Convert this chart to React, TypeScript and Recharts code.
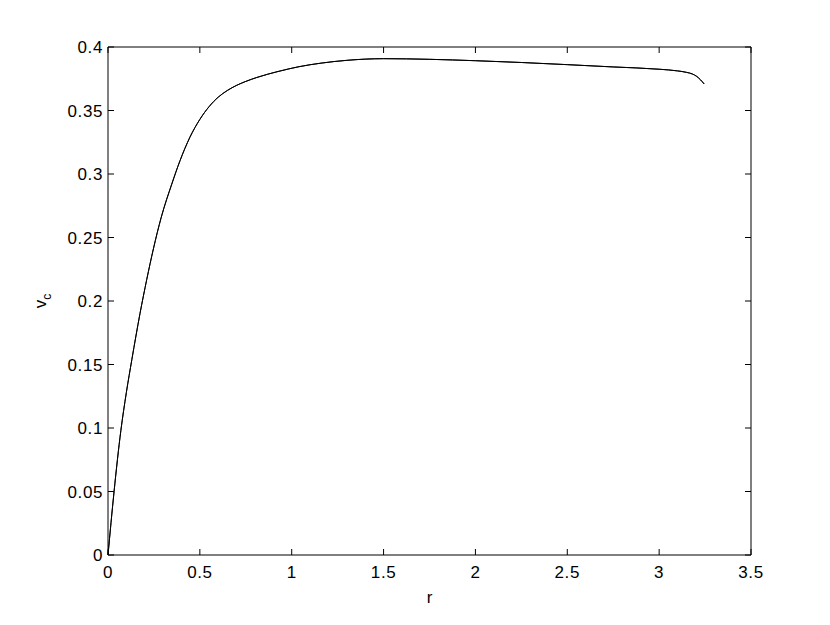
import { LineChart, Line, XAxis, YAxis } from "recharts"

// radio r y velocidad circular v_c
const rVals = [0, 0.033, 0.07, 0.1, 0.13, 0.174, 0.211, 0.247, 0.29, 0.347, 0.392, 0.446, 0.5, 0.55, 0.6, 0.65, 0.7, 0.75, 0.81, 0.87, 0.92, 1.04, 1.16, 1.3, 1.5, 1.75, 2.0, 2.25, 2.5, 2.75, 3.0, 3.1, 3.15, 3.18, 3.205, 3.225, 3.245]
const vcVals = [0, 0.05, 0.098, 0.128, 0.154, 0.19, 0.217, 0.241, 0.266, 0.292, 0.3105, 0.329, 0.343, 0.353, 0.3605, 0.3658, 0.3698, 0.3729, 0.376, 0.3786, 0.3805, 0.3845, 0.3873, 0.3895, 0.3908, 0.3903, 0.3892, 0.3878, 0.3861, 0.3843, 0.3825, 0.3812, 0.38, 0.3788, 0.3768, 0.3742, 0.3709]

const xTicks = [0, 0.5, 1, 1.5, 2, 2.5, 3, 3.5]
const yTicks = [0, 0.05, 0.1, 0.15, 0.2, 0.25, 0.3, 0.35, 0.4]

const data = rVals.map((r, i) => ({ r, vc: vcVals[i] }))

const FONT = "'Liberation Sans', Arial, Helvetica, sans-serif"
const TICK = 6

// ticks hacia dentro, estilo matlab (tickSize=1 -> la coordenada llega 1px fuera del eje)
const BottomTick = ({ x, y, payload }: any) => (
  <g>
    <line x1={x} x2={x} y1={y - 1} y2={y - 1 - TICK} stroke="#000" />
    <text x={x} y={y + 22} textAnchor="middle" fontSize={17} fontFamily={FONT} letterSpacing={0.6} fill="#000">
      {payload.value}
    </text>
  </g>
)

const TopTick = ({ x, y }: any) => <line x1={x} x2={x} y1={y + 1} y2={y + 1 + TICK} stroke="#000" />

const LeftTick = ({ x, y, payload }: any) => (
  <g>
    <line x1={x + 1} x2={x + 1 + TICK} y1={y} y2={y} stroke="#000" />
    <text x={x - 4} y={y + 6} textAnchor="end" fontSize={17} fontFamily={FONT} letterSpacing={0.6} fill="#000">
      {payload.value}
    </text>
  </g>
)

const RightTick = ({ x, y }: any) => <line x1={x - 1} x2={x - 1 - TICK} y1={y} y2={y} stroke="#000" />

export default function App() {
  return (
    <div style={{ position: "absolute", left: 0, top: 0, width: 830, height: 625, background: "#fff" }}>
      <LineChart width={830} height={625} data={data} margin={{ top: 46, right: 78, bottom: 40, left: 48 }}>
        <XAxis
          xAxisId="b"
          dataKey="r"
          type="number"
          domain={[0, 3.5]}
          ticks={xTicks}
          height={30}
          tickSize={1}
          tickMargin={0}
          tickLine={false}
          tick={<BottomTick />}
          axisLine={{ stroke: "#000" }}
          label={{
            content: ({ viewBox }: any) => (
              <text x={viewBox.x + viewBox.width / 2} y={603} textAnchor="middle" fontSize={17} fontFamily={FONT} fill="#000">
                r
              </text>
            ),
          }}
        />
        <XAxis
          xAxisId="t"
          dataKey="r"
          type="number"
          orientation="top"
          domain={[0, 3.5]}
          ticks={xTicks}
          height={1}
          tickSize={1}
          tickMargin={0}
          tickLine={false}
          tick={<TopTick />}
          axisLine={{ stroke: "#000" }}
        />
        <YAxis
          yAxisId="l"
          type="number"
          domain={[0, 0.4]}
          ticks={yTicks}
          width={60}
          tickSize={1}
          tickMargin={0}
          tickLine={false}
          tick={<LeftTick />}
          axisLine={{ stroke: "#000" }}
          label={{
            content: ({ viewBox }: any) => {
              const cx = 46
              const cy = viewBox.y + viewBox.height / 2
              return (
                <text transform={`translate(${cx},${cy}) rotate(-90)`} textAnchor="middle" fontSize={17} fontFamily={FONT} fill="#000">
                  v<tspan dy={5} fontSize={12}>c</tspan>
                </text>
              )
            },
          }}
        />
        <YAxis
          yAxisId="r"
          type="number"
          orientation="right"
          domain={[0, 0.4]}
          ticks={yTicks}
          width={1}
          tickSize={1}
          tickMargin={0}
          tickLine={false}
          tick={<RightTick />}
          axisLine={{ stroke: "#000" }}
        />
        <Line
          xAxisId="b"
          yAxisId="l"
          dataKey="vc"
          type="monotone"
          stroke="#000"
          strokeWidth={1}
          dot={false}
          activeDot={false}
          isAnimationActive={false}
        />
        {/* misma curva en los ejes espejo, para que arriba y derecha se dibujen */}
        <Line
          xAxisId="t"
          yAxisId="r"
          dataKey="vc"
          type="monotone"
          stroke="#000"
          strokeWidth={1}
          dot={false}
          activeDot={false}
          isAnimationActive={false}
        />
      </LineChart>
    </div>
  )
}
